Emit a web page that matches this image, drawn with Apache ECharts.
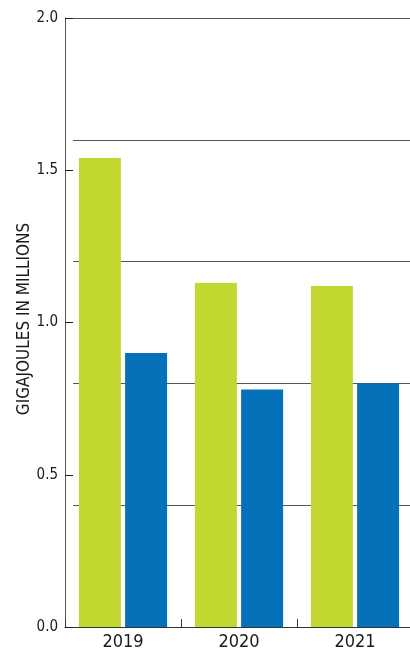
<!DOCTYPE html>
<html>
<head>
<meta charset="utf-8">
<script src="https://cdn.jsdelivr.net/npm/echarts@6/dist/echarts.min.js"></script>
<style>html,body{margin:0;padding:0;background:#fff}#c{width:410px;height:652px}</style>
</head>
<body>
<div id="c"></div>
<script>
var categories = ['2019', '2020', '2021'];
var seriesGreen = [1.54, 1.13, 1.12];
var seriesBlue = [0.90, 0.78, 0.80];
var yTickValues = [0, 0.5, 1.0, 1.5, 2.0];
var yAxisTitle = 'GIGAJOULES IN MILLIONS';

var FONT = '"Liberation Sans Narrow", "DejaVu Sans Condensed", "Roboto", sans-serif';
var chart = echarts.init(document.getElementById('c'), null, {renderer: 'canvas'});
chart.setOption({
  animation: false,
  backgroundColor: '#fff',
  grid: [
    {left: 65, top: 18, width: 348, height: 609, outerBoundsMode: 'none', containLabel: false},
    {left: 73, right: 0, top: 18, height: 609, outerBoundsMode: 'none', containLabel: false}
  ],
  xAxis: [
    {
      type: 'category', gridIndex: 0, data: categories,
      axisLine: {show: true, lineStyle: {color: '#333', width: 1}},
      axisTick: {show: true, inside: true, length: 8, lineStyle: {color: '#333'}},
      axisLabel: {color: '#1a1a1a', fontSize: 18, fontFamily: FONT, margin: 6}
    },
    {type: 'value', gridIndex: 1, show: false, min: 0, max: 1}
  ],
  yAxis: [
    {
      type: 'value', gridIndex: 0, min: 0, max: 2, interval: 0.5,
      axisLine: {show: true, lineStyle: {color: '#555', width: 1}},
      axisTick: {show: true, inside: true, length: 8, lineStyle: {color: '#222'}},
      splitLine: {show: false},
      axisLabel: {
        color: '#1a1a1a', fontSize: 15, fontFamily: FONT, margin: 7,
        formatter: function (v) { return yTickValues.indexOf(v) >= 0 ? v.toFixed(1) : ''; }
      }
    },
    {
      type: 'value', gridIndex: 1, min: 0, max: 2, interval: 0.4,
      axisLine: {show: false}, axisTick: {show: false}, axisLabel: {show: false},
      splitLine: {show: true, lineStyle: {color: '#555', width: 1}}
    }
  ],
  graphic: [{
    type: 'text', x: 25, y: 319, rotation: Math.PI / 2,
    style: {text: yAxisTitle, fill: '#1a1a1a', fontSize: 17, fontFamily: FONT, align: 'center', verticalAlign: 'middle'}
  }],
  series: [
    {type: 'bar', xAxisIndex: 0, yAxisIndex: 0, data: seriesGreen, barWidth: 42, barGap: '10%', itemStyle: {color: '#c2d72f'}},
    {type: 'bar', xAxisIndex: 0, yAxisIndex: 0, data: seriesBlue, barWidth: 42, barGap: '10%', itemStyle: {color: '#0571b9'}}
  ]
});
</script>
</body>
</html>
